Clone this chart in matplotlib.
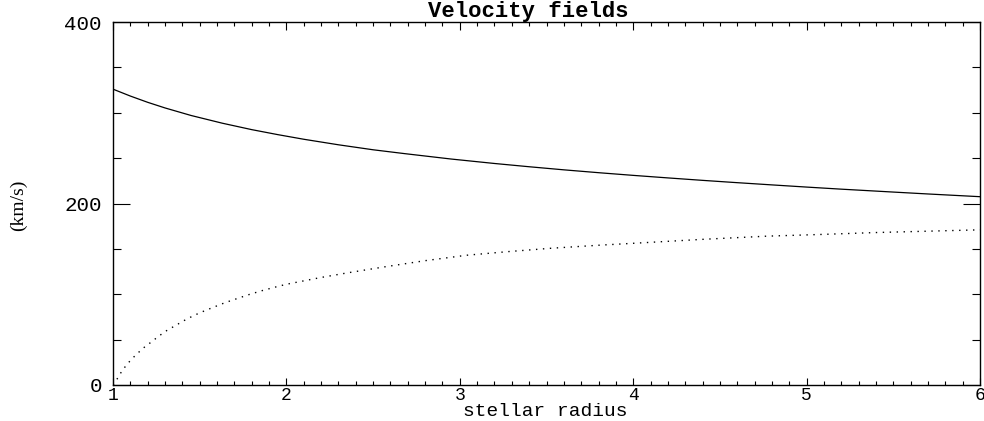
import numpy as np
import matplotlib.pyplot as plt
from matplotlib.ticker import MultipleLocator

# values
r_solid = [1.0, 1.1, 1.2, 1.3, 1.45, 1.63, 1.8, 1.95, 2.1, 2.3, 2.5, 2.68, 2.95, 3.2,
           3.4, 3.6, 3.81, 4.0, 4.2, 4.4, 4.58, 4.8, 5.0, 5.2, 5.35, 5.5, 5.7, 5.85, 6.0]
v_solid = [326, 318.4, 311.5, 305.3, 297, 288.5, 281.4, 275.9, 270.8, 264.7, 259.2, 255, 249, 244.1,
           240.5, 237.1, 233.8, 231.0, 228.2, 225.5, 223.2, 220.5, 218.1, 215.8, 214.2, 212.6, 210.5, 209.0, 207.5]

r_dot = [1.0, 1.017, 1.04, 1.077, 1.11, 1.142, 1.18, 1.223, 1.265, 1.31, 1.36, 1.41,
         1.465, 1.525, 1.59, 1.65, 1.72, 1.79, 1.86, 1.93, 2.0, 2.08, 2.2, 2.35, 2.56,
         2.8, 3.04, 3.28, 3.52, 3.8, 4.08, 4.4, 4.77, 5.1, 5.4, 5.7, 6.0]
v_dot = [0, 4.4, 12, 22, 29, 35, 41.5, 47.7, 54, 60, 65.5, 71,
         76.5, 81.5, 86.5, 91, 95.5, 100, 104, 107.6, 111, 114, 118.5, 123.5, 130,
         137, 143, 147, 150.6, 154, 157, 160.5, 164, 166, 168, 169.5, 171]

x_ticks = [1, 2, 3, 4, 5, 6]
y_ticks = [0, 200, 400]

mono = 'Liberation Mono'

fig = plt.figure(figsize=(9.84, 4.21), dpi=100)
ax = fig.add_axes([113 / 984, 36 / 421, 867 / 984, 363 / 421])

ax.plot(r_solid, v_solid, color='black', lw=0.9)
ax.plot(r_dot, v_dot, color='black', lw=1.0, linestyle=(0, (1, 4)))

ax.set_xlim(1, 6)
ax.set_ylim(0, 400)
ax.set_xticks(x_ticks)
ax.set_yticks(y_ticks)
ax.xaxis.set_minor_locator(MultipleLocator(0.1))
ax.yaxis.set_minor_locator(MultipleLocator(50))

ax.tick_params(axis='both', which='both', direction='in', top=True, right=True, width=0.8)
ax.tick_params(axis='x', which='major', length=5.4, pad=1.5)
ax.tick_params(axis='x', which='minor', length=2.8)
ax.tick_params(axis='y', which='major', length=12.5, pad=8)
ax.tick_params(axis='y', which='minor', length=6)
for lab in ax.get_xticklabels():
    lab.set_fontfamily(mono)
    lab.set_fontsize(13)
for lab in ax.get_yticklabels():
    lab.set_fontfamily(mono)
    lab.set_fontsize(15)
for s in ax.spines.values():
    s.set_linewidth(1.0)

fig.text(528 / 984, 1 - 11 / 421, 'Velocity fields', fontfamily=mono, fontsize=16,
         fontweight='bold', ha='center', va='center')
fig.text(545 / 984, 1 - 412 / 421, 'stellar radius', fontfamily=mono, fontsize=14,
         ha='center', va='center')
fig.text(18 / 984, 1 - 205 / 421, '(km/s)', fontfamily='Liberation Serif', fontsize=14,
         rotation=90, ha='center', va='center')

fig.savefig('out.png', dpi=100)
